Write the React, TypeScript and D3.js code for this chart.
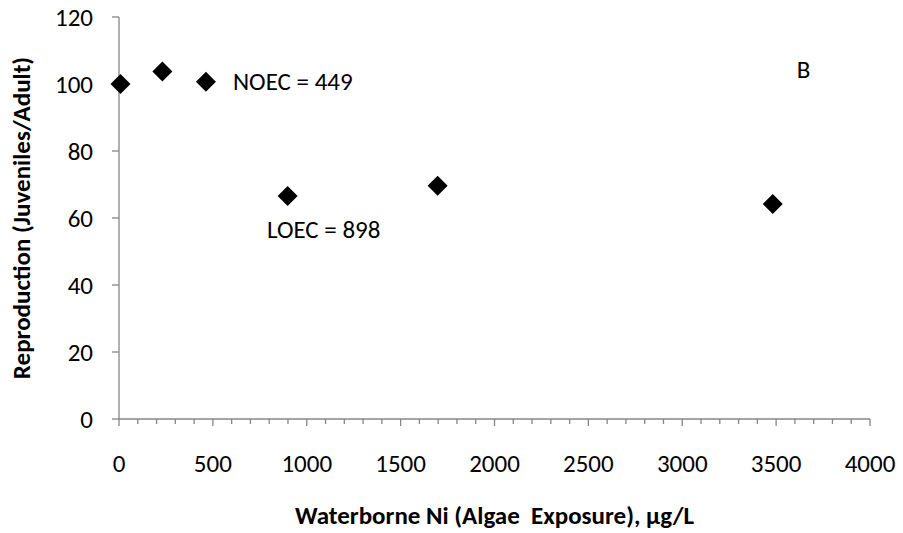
import React from "react";
import * as d3 from "d3";

const exposureNi = [8, 231, 463, 898, 1697, 3482];
const reproduction = [100, 103.7, 100.7, 66.6, 69.6, 64.2];
const xTicks = [0, 500, 1000, 1500, 2000, 2500, 3000, 3500, 4000];
const xMinorTicks = d3.range(0, 4001, 100);
const yTicks = [0, 20, 40, 60, 80, 100, 120];
const annotations = [
  { text: "NOEC = 449", x: 607, y: 100.7 },
  { text: "LOEC = 898", x: 788, y: 56.5 },
  { text: "B", x: 3610, y: 104.2 },
];

const W = 903;
const H = 533;
const FONT = "Carlito, Calibri, Lato, 'Open Sans', sans-serif";
const AXIS = "#868686";

export default function App() {
  const x = d3.scaleLinear().domain([0, 4000]).range([119, 870]);
  const y = d3.scaleLinear().domain([0, 120]).range([419, 17]);
  const diamond = d3.symbol().type(d3.symbolDiamond2).size(255)();
  const x0 = x(0);
  const y0 = y(0);
  return (
    <svg
      width={W}
      height={H}
      style={{ position: "absolute", left: 0, top: 0, background: "#fff" }}
      fontFamily={FONT}
    >
      <rect x={0} y={0} width={W} height={H} fill="#fff" />
      {/* y axis */}
      <line x1={x0} x2={x0} y1={y(120)} y2={y0} stroke={AXIS} strokeWidth={1.3} />
      {yTicks.map((t) => (
        <g key={"y" + t}>
          <line x1={x0 - 7} x2={x0} y1={y(t)} y2={y(t)} stroke={AXIS} strokeWidth={1.3} />
          <text
            x={93}
            y={y(t)}
            textAnchor="end"
            dominantBaseline="central"
            fontSize={25}
            fill="#000"
          >
            {t}
          </text>
        </g>
      ))}
      {/* x axis */}
      <line x1={x0} x2={x(4000)} y1={y0} y2={y0} stroke={AXIS} strokeWidth={1.3} />
      {xMinorTicks.map((t) => (
        <line
          key={"xm" + t}
          x1={x(t)}
          x2={x(t)}
          y1={y0}
          y2={y0 + (t % 500 === 0 ? 7 : 5)}
          stroke={AXIS}
          strokeWidth={1.3}
        />
      ))}
      {xTicks.map((t) => (
        <text
          key={"xl" + t}
          x={x(t)}
          y={463}
          textAnchor="middle"
          dominantBaseline="central"
          fontSize={25}
          fill="#000"
        >
          {t}
        </text>
      ))}
      {/* axis titles */}
      <text
        x={494.5}
        y={515}
        textAnchor="middle"
        dominantBaseline="central"
        fontSize={25}
        fontWeight="bold"
        fill="#000"
        style={{ whiteSpace: "pre" }}
      >
        {"Waterborne Ni (Algae  Exposure), µg/L"}
      </text>
      <text
        transform={`translate(21,${(y(120) + y0) / 2}) rotate(-90)`}
        textAnchor="middle"
        dominantBaseline="central"
        fontSize={25}
        fontWeight="bold"
        fill="#000"
      >
        Reproduction (Juveniles/Adult)
      </text>
      {/* points */}
      {exposureNi.map((v, i) => (
        <path
          key={"p" + i}
          d={diamond as string}
          transform={`translate(${x(v)},${y(reproduction[i])})`}
          fill="#000"
        />
      ))}
      {/* annotations */}
      {annotations.map((a) => (
        <text
          key={a.text}
          x={x(a.x)}
          y={y(a.y)}
          textAnchor="start"
          dominantBaseline="central"
          fontSize={25}
          fill="#000"
        >
          {a.text}
        </text>
      ))}
    </svg>
  );
}
